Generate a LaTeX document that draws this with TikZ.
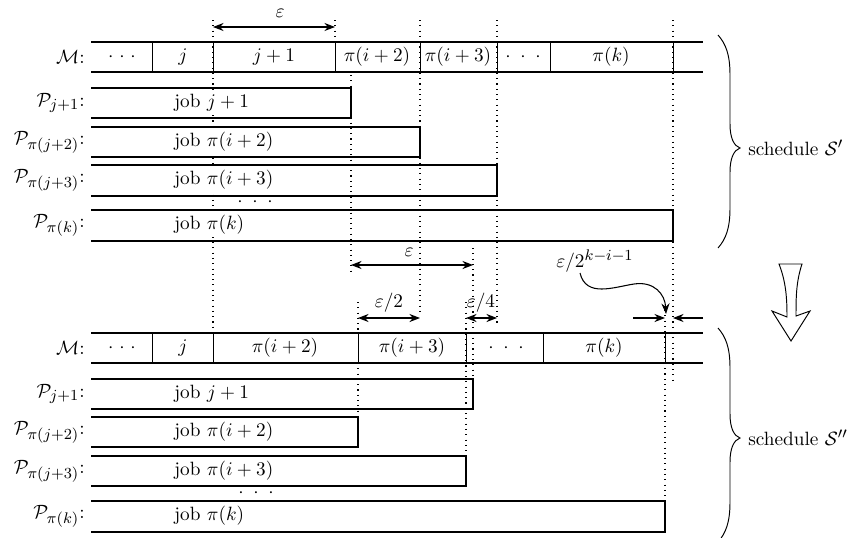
\documentclass[tikz,border=0pt]{standalone}
\usetikzlibrary{arrows.meta}
\DeclareMathSizes{10}{10}{7.6}{5.5}
% three spaced centre dots
\newcommand{\spdots}[1]{${\cdot}\hspace{#1}{\cdot}\hspace{#1}{\cdot}$}
% tall right brace: x, top y, tip y, bottom y
\newcommand{\tallbrace}[4]{%
  \draw[line width=0.5pt] (#1,#2) .. controls (#1+8,#2+9) and (#1+12,#2+20) .. (#1+12,#2+40)
    -- (#1+12,#3-24) .. controls (#1+12,#3-10) and (#1+16,#3-2) .. (#1+22,#3)
    .. controls (#1+16,#3+2) and (#1+12,#3+10) .. (#1+12,#3+24)
    -- (#1+12,#4-40) .. controls (#1+12,#4-20) and (#1+8,#4-9) .. (#1,#4);}
\begin{document}
\begin{tikzpicture}[x=0.52pt,y=-0.52pt,
  rowline/.style={line width=0.8pt},
  divline/.style={line width=0.5pt},
  guide/.style={line width=0.55pt, dash pattern=on 0.55pt off 2.2pt},
  dimarrow/.style={line width=0.55pt, {Stealth[length=5.5pt,width=4.2pt]}-{Stealth[length=5.5pt,width=4.2pt]}},
  onearrow/.style={line width=0.55pt, -{Stealth[length=5.5pt,width=4.2pt]}},
  rowlabel/.style={anchor=east, inner sep=0pt},
  joblabel/.style={anchor=west, inner sep=1pt, fill=white},
  cell/.style={inner sep=0pt}]
\useasboundingbox (0,0) rectangle (861,537);

% ---------- dotted guide lines ----------
\draw[guide] (213,20) -- (213,330);
\draw[guide] (335,20) -- (335,42);
\draw[guide] (351,75) -- (351,273);
\draw[guide] (420,20) -- (420,312);
\draw[guide] (497,20) -- (497,323);
\draw[guide] (673,20) -- (673,381);
\draw[guide] (473,248) -- (473,379);
\draw[guide] (358,302) -- (358,333);
\draw[guide] (358,363) -- (358,417);
\draw[guide] (466,302) -- (466,456);
\draw[guide] (665,310) -- (665,501);

% ---------- schedule S' ----------
\draw[rowline] (91,42) -- (703,42) (91,72) -- (703,72);
\foreach \x in {152,213,335,420,497,550,673}
  \draw[divline] (\x,42) -- (\x,72);
\node[rowlabel] (mA) at (85,57) {$\mathcal{M}$:};
\node[cell] (a1) at (122,57) {\spdots{3pt}};
\node[cell] (a2) at (183,57) {$j$};
\node[cell] (a3) at (274,57) {$j+1$};
\node[cell] (a4) at (377,57) {$\pi(i+2)$};
\node[cell] (a5) at (458,57) {$\pi(i+3)$};
\node[cell] (a6) at (523,57) {\spdots{5pt}};
\node[cell] (a7) at (611,57) {$\pi(k)$};

\draw[rowline] (91,88) -- (351,88) -- (351,118) -- (91,118);
\draw[rowline] (91,127) -- (420,127) -- (420,157) -- (91,157);
\draw[rowline] (91,165) -- (497,165) -- (497,196) -- (91,196);
\draw[rowline] (91,210) -- (673,210) -- (673,241) -- (91,241);
\node[rowlabel] (pA1) at (85,103) {$\mathcal{P}_{j+1}$:};
\node[rowlabel] (pA2) at (85,142) {$\mathcal{P}_{\pi(j+2)}$:};
\node[rowlabel] (pA3) at (85,180) {$\mathcal{P}_{\pi(j+3)}$:};
\node[rowlabel] (pA4) at (85,225) {$\mathcal{P}_{\pi(k)}$:};
\node[joblabel] (jA1) at (172,103) {job $j+1$};
\node[joblabel] (jA2) at (172,142) {job $\pi(i+2)$};
\node[joblabel] (jA3) at (172,180) {job $\pi(i+3)$};
\node[joblabel] (jA4) at (172,225) {job $\pi(k)$};
\node[cell] (dA) at (255,202) {\spdots{5pt}};

\tallbrace{718}{35}{148}{248}
\node[anchor=west, inner sep=0pt] (sA) at (748,148) {schedule $\mathcal{S}'$};

% ---------- widths ----------
\coordinate (e1l) at (213,27); \coordinate (e1r) at (335,27);
\draw[dimarrow] (e1l) -- (e1r);
\node[cell] (e1) at (280,13) {$\varepsilon$};

\coordinate (e2l) at (351,265); \coordinate (e2r) at (473,265);
\draw[dimarrow] (e2l) -- (e2r);
\node[cell] (e2) at (409,252) {$\varepsilon$};

\coordinate (e3l) at (358,318); \coordinate (e3r) at (420,318);
\draw[dimarrow] (e3l) -- (e3r);
\node[cell] (e3) at (389,303) {$\varepsilon/2$};

\coordinate (e4l) at (466,318); \coordinate (e4r) at (497,318);
\draw[dimarrow] (e4l) -- (e4r);
\node[cell] (e4) at (481,303) {$\varepsilon/4$};

\coordinate (e5a) at (633,318); \coordinate (e5b) at (665,318);
\coordinate (e5c) at (703,318); \coordinate (e5d) at (673,318);
\draw[onearrow] (e5a) -- (e5b);
\draw[onearrow] (e5c) -- (e5d);
\node[cell] (e5) at (595,261) {$\varepsilon/2^{k-i-1}$};
\coordinate (e5s) at (580,273); \coordinate (e5t) at (666,314);
\draw[onearrow] (e5s) .. controls (586,298) and (614,287) .. (634,284)
  .. controls (654,281) and (665,294) .. (e5t);

% ---------- transition arrow ----------
\draw[line width=0.5pt, line join=miter] (779,264) -- (802,264)
  .. controls (796,282) and (796,298) .. (796,316) -- (810,311) -- (791,341)
  -- (772,311) -- (787,317) .. controls (787,298) and (786,282) .. cycle;

% ---------- schedule S'' ----------
\draw[rowline] (91,333) -- (703,333) (91,363) -- (703,363);
\foreach \x in {152,213,358,466,543,665}
  \draw[divline] (\x,333) -- (\x,363);
\node[rowlabel] (mB) at (85,348) {$\mathcal{M}$:};
\node[cell] (b1) at (122,348) {\spdots{3pt}};
\node[cell] (b2) at (183,348) {$j$};
\node[cell] (b3) at (285,348) {$\pi(i+2)$};
\node[cell] (b4) at (412,348) {$\pi(i+3)$};
\node[cell] (b5) at (506,348) {\spdots{5pt}};
\node[cell] (b6) at (604,348) {$\pi(k)$};

\draw[rowline] (91,379) -- (473,379) -- (473,409) -- (91,409);
\draw[rowline] (91,417) -- (358,417) -- (358,447) -- (91,447);
\draw[rowline] (91,456) -- (466,456) -- (466,486) -- (91,486);
\draw[rowline] (91,501) -- (665,501) -- (665,532) -- (91,532);
\node[rowlabel] (pB1) at (85,394) {$\mathcal{P}_{j+1}$:};
\node[rowlabel] (pB2) at (85,432) {$\mathcal{P}_{\pi(j+2)}$:};
\node[rowlabel] (pB3) at (85,471) {$\mathcal{P}_{\pi(j+3)}$:};
\node[rowlabel] (pB4) at (85,516) {$\mathcal{P}_{\pi(k)}$:};
\node[joblabel] (jB1) at (172,394) {job $j+1$};
\node[joblabel] (jB2) at (172,432) {job $\pi(i+2)$};
\node[joblabel] (jB3) at (172,471) {job $\pi(i+3)$};
\node[joblabel] (jB4) at (172,516) {job $\pi(k)$};
\node[cell] (dB) at (256,493) {\spdots{5pt}};

\tallbrace{718}{328}{438}{542}
\node[anchor=west, inner sep=0pt] (sB) at (748,438) {schedule $\mathcal{S}''$};
\end{tikzpicture}
\end{document}
